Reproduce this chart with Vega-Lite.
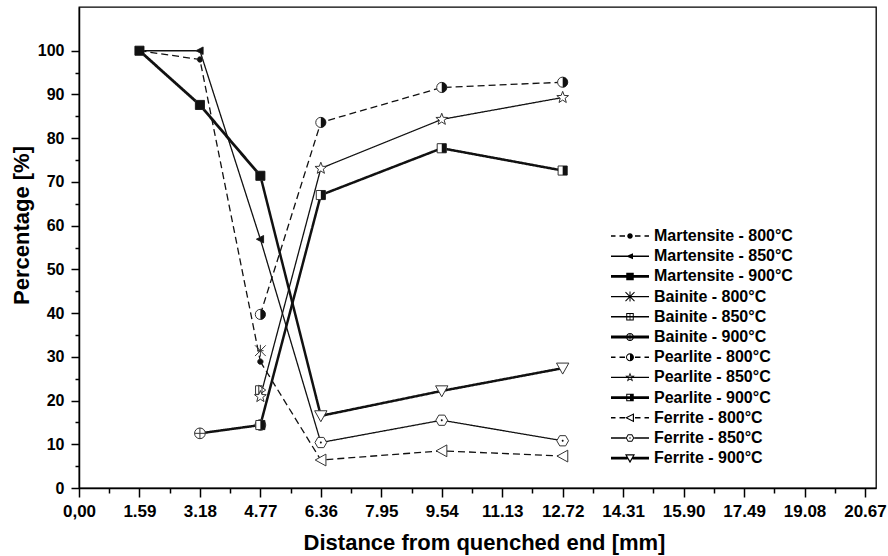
{
  "$schema": "https://vega.github.io/schema/vega-lite/v6.json",
  "width": 797,
  "height": 481,
  "autosize": "none",
  "padding": {"left": 79, "top": 7, "right": 12, "bottom": 68},
  "background": "white",
  "config": {
    "font": "Liberation Sans",
    "view": {"stroke": "black", "strokeWidth": 1.3},
    "axis": {"grid": false, "domainColor": "black", "domainWidth": 1.5, "tickColor": "black", "tickWidth": 1.5,
             "labelColor": "black", "labelFontWeight": "bold", "titleColor": "black", "titleFontWeight": "bold",
             "labelFont": "Liberation Sans", "titleFont": "Liberation Sans"}
  },
  "data": {"values": [
    {"series": "Martensite - 800°C", "x": 1.59, "y": 100},
    {"series": "Martensite - 800°C", "x": 3.18, "y": 98.0},
    {"series": "Martensite - 800°C", "x": 4.77, "y": 28.9},
    {"series": "Martensite - 850°C", "x": 1.59, "y": 100},
    {"series": "Martensite - 850°C", "x": 3.18, "y": 100},
    {"series": "Martensite - 850°C", "x": 4.77, "y": 56.9},
    {"series": "Martensite - 900°C", "x": 1.59, "y": 100},
    {"series": "Martensite - 900°C", "x": 3.18, "y": 87.6},
    {"series": "Martensite - 900°C", "x": 4.77, "y": 71.4},
    {"series": "Bainite - 800°C", "x": 4.77, "y": 31.4},
    {"series": "Bainite - 850°C", "x": 4.77, "y": 22.4},
    {"series": "Bainite - 900°C", "x": 3.18, "y": 12.5},
    {"series": "Bainite - 900°C", "x": 4.77, "y": 14.4},
    {"series": "Pearlite - 800°C", "x": 4.77, "y": 39.7},
    {"series": "Pearlite - 800°C", "x": 6.36, "y": 83.6},
    {"series": "Pearlite - 800°C", "x": 9.54, "y": 91.6},
    {"series": "Pearlite - 800°C", "x": 12.72, "y": 92.8},
    {"series": "Pearlite - 850°C", "x": 4.77, "y": 20.9},
    {"series": "Pearlite - 850°C", "x": 6.36, "y": 73.1},
    {"series": "Pearlite - 850°C", "x": 9.54, "y": 84.3},
    {"series": "Pearlite - 850°C", "x": 12.72, "y": 89.3},
    {"series": "Pearlite - 900°C", "x": 4.77, "y": 14.4},
    {"series": "Pearlite - 900°C", "x": 6.36, "y": 67.0},
    {"series": "Pearlite - 900°C", "x": 9.54, "y": 77.7},
    {"series": "Pearlite - 900°C", "x": 12.72, "y": 72.6},
    {"series": "Ferrite - 800°C", "x": 4.77, "y": 28.9},
    {"series": "Ferrite - 800°C", "x": 6.36, "y": 6.4},
    {"series": "Ferrite - 800°C", "x": 9.54, "y": 8.5},
    {"series": "Ferrite - 800°C", "x": 12.72, "y": 7.3},
    {"series": "Ferrite - 850°C", "x": 4.77, "y": 56.9},
    {"series": "Ferrite - 850°C", "x": 6.36, "y": 10.4},
    {"series": "Ferrite - 850°C", "x": 9.54, "y": 15.5},
    {"series": "Ferrite - 850°C", "x": 12.72, "y": 10.8},
    {"series": "Ferrite - 900°C", "x": 4.77, "y": 71.4},
    {"series": "Ferrite - 900°C", "x": 6.36, "y": 16.5},
    {"series": "Ferrite - 900°C", "x": 9.54, "y": 22.2},
    {"series": "Ferrite - 900°C", "x": 12.72, "y": 27.4}
  ]},
  "encoding": {
    "x": {"field": "x", "type": "quantitative", "title": "Distance from quenched end [mm]",
          "scale": {"domain": [0, 20.96], "nice": false, "zero": false},
          "axis": {"values": [0, 0.795, 1.59, 2.385, 3.18, 3.975, 4.77, 5.565, 6.36, 7.155, 7.95, 8.745, 9.54, 10.335, 11.13, 11.925, 12.72, 13.515, 14.31, 15.105, 15.9, 16.695, 17.49, 18.285, 19.08, 19.875, 20.67],
                   "labelExpr": "abs(datum.value/1.59 - round(datum.value/1.59)) > 0.25 ? '' : (datum.value == 0 ? '0,00' : format(datum.value, '.2f'))",
                   "tickSize": {"condition": {"test": "abs(datum.value/1.59 - round(datum.value/1.59)) > 0.25", "value": 5}, "value": 9},
                   "labelFontSize": 17, "labelPadding": 6, "labelFlush": false, "labelOverlap": false,
                   "titleFontSize": 22, "titleX": 405, "titleY": 61, "titleBaseline": "alphabetic"}},
    "y": {"field": "y", "type": "quantitative", "title": "Percentage [%]",
          "scale": {"domain": [0, 110], "nice": false},
          "axis": {"values": [0, 5, 10, 15, 20, 25, 30, 35, 40, 45, 50, 55, 60, 65, 70, 75, 80, 85, 90, 95, 100],
                   "labelExpr": "datum.value % 10 != 0 ? '' : datum.value",
                   "tickSize": {"condition": {"test": "datum.value % 10 != 0", "value": 4}, "value": 8},
                   "labelFontSize": 16, "labelPadding": 7, "labelOverlap": false,
                   "titleFontSize": 22, "titleX": -51, "titleY": 218, "titleBaseline": "alphabetic"}}
  },
  "layer": [
    {
      "mark": {"type": "line", "color": "#111111"},
      "encoding": {
        "detail": {"field": "series", "type": "nominal"},
        "strokeDash": {"field": "series", "type": "nominal", "legend": null,
          "scale": {"domain": ["Martensite - 800°C", "Martensite - 850°C", "Martensite - 900°C", "Bainite - 800°C", "Bainite - 850°C", "Bainite - 900°C", "Pearlite - 800°C", "Pearlite - 850°C", "Pearlite - 900°C", "Ferrite - 800°C", "Ferrite - 850°C", "Ferrite - 900°C"],
                    "range": [[7, 4], [1, 0], [1, 0], [7, 4], [1, 0], [1, 0], [7, 4], [1, 0], [1, 0], [7, 4], [1, 0], [1, 0]]}},
        "strokeWidth": {"field": "series", "type": "nominal", "legend": null,
          "scale": {"type": "ordinal", "domain": ["Martensite - 800°C", "Martensite - 850°C", "Martensite - 900°C", "Bainite - 800°C", "Bainite - 850°C", "Bainite - 900°C", "Pearlite - 800°C", "Pearlite - 850°C", "Pearlite - 900°C", "Ferrite - 800°C", "Ferrite - 850°C", "Ferrite - 900°C"],
                    "range": [1.3, 1.3, 2.8, 1.3, 1.3, 2.5, 1.3, 1.3, 2.5, 1.3, 1.3, 2.5]}}
      }
    },
    {
      "transform": [{"filter": "!(indexof(datum.series, 'Ferrite') == 0 && datum.x < 5)"}],
      "mark": {"type": "point", "filled": false, "fill": "white", "stroke": "#333333", "strokeWidth": 1, "size": 115, "opacity": 1},
      "encoding": {
        "shape": {"field": "series", "type": "nominal", "legend": null,
          "scale": {"domain": ["Martensite - 800°C", "Martensite - 850°C", "Martensite - 900°C", "Bainite - 800°C", "Bainite - 850°C", "Bainite - 900°C", "Pearlite - 800°C", "Pearlite - 850°C", "Pearlite - 900°C", "Ferrite - 800°C", "Ferrite - 850°C", "Ferrite - 900°C"],
                    "range": [
                      "M0.5,0A0.5,0.5 0 0 1 -0.5,0A0.5,0.5 0 0 1 0.5,0Z",
                      "M-0.75,0L0.6,-0.7L0.6,0.7Z",
                      "M-0.85,-0.85H0.85V0.85H-0.85Z",
                      "M-1,-1L1,1M-1,1L1,-1M0,-1.1V1.1M-0.6,0H0.6",
                      "M-0.9,-0.8H0.3V0.8H-0.9Z M-0.3,-0.9L1,0L-0.3,0.9Z",
                      "M1,0A1,1 0 0 1 -1,0A1,1 0 0 1 1,0Z M-1,0H1 M0,-1V1",
                      "M0.95,0A0.95,0.95 0 0 1 -0.95,0A0.95,0.95 0 0 1 0.95,0Z",
                      "M0,-1.15L0.282,-0.388L1.094,-0.355L0.456,0.148L0.676,0.93L0,0.48L-0.676,0.93L-0.456,0.148L-1.094,-0.355L-0.282,-0.388Z",
                      "M-0.85,-0.85H0.85V0.85H-0.85Z",
                      "M-1.05,0L0.95,-1.1L0.95,1.1Z",
                      "M1.1,0L0.55,0.953L-0.55,0.953L-1.1,0L-0.55,-0.953L0.55,-0.953Z",
                      "M-1.15,-0.95H1.15L0,1.1Z"
                    ]}}
      }
    },
    {
      "transform": [
        {"filter": {"field": "series", "oneOf": ["Martensite - 800°C", "Martensite - 850°C", "Martensite - 900°C", "Pearlite - 800°C", "Pearlite - 900°C", "Ferrite - 850°C"]}},
        {"filter": "!(indexof(datum.series, 'Ferrite') == 0 && datum.x < 5)"}
      ],
      "mark": {"type": "point", "filled": true, "color": "#111111", "strokeWidth": 0, "size": 115, "opacity": 1},
      "encoding": {
        "shape": {"field": "series", "type": "nominal", "legend": null,
          "scale": {"domain": ["Martensite - 800°C", "Martensite - 850°C", "Martensite - 900°C", "Pearlite - 800°C", "Pearlite - 900°C", "Ferrite - 850°C"],
                    "range": [
                      "M0.5,0A0.5,0.5 0 0 1 -0.5,0A0.5,0.5 0 0 1 0.5,0Z",
                      "M-0.75,0L0.6,-0.7L0.6,0.7Z",
                      "M-0.85,-0.85H0.85V0.85H-0.85Z",
                      "M0,-0.95A0.95,0.95 0 0 1 0,0.95Z",
                      "M0,-0.85H0.85V0.85H0Z",
                      "M0.18,0A0.18,0.18 0 0 1 -0.18,0A0.18,0.18 0 0 1 0.18,0Z"
                    ]}}
      }
    },
    {
      "transform": [{"filter": "false"}],
      "mark": {"type": "point", "filled": true, "color": "black", "opacity": 1},
      "encoding": {
        "shape": {"field": "series", "type": "nominal", "title": null,
          "scale": {"domain": ["Martensite - 800°C", "Martensite - 850°C", "Martensite - 900°C", "Bainite - 800°C", "Bainite - 850°C", "Bainite - 900°C", "Pearlite - 800°C", "Pearlite - 850°C", "Pearlite - 900°C", "Ferrite - 800°C", "Ferrite - 850°C", "Ferrite - 900°C"],
                    "range": [
                      "M-3.8,-0.14H-2.9V0.14H-3.8Z M-2.1,-0.14H-1V0.14H-2.1Z M1,-0.14H2.1V0.14H1Z M2.9,-0.14H3.8V0.14H2.9Z M0.55,0A0.55,0.55 0 0 1 -0.55,0A0.55,0.55 0 0 1 0.55,0Z",
                      "M-3.8,-0.14H3.8V0.14H-3.8Z M-0.8,0L0.6,-0.6L0.6,0.6Z",
                      "M-3.8,-0.28H3.8V0.28H-3.8Z M-0.75,-0.75H0.75V0.75H-0.75Z",
                      "M-3.8,-0.14H3.8V0.14H-3.8Z M-0.971,-0.829L-0.829,-0.971L0.971,0.829L0.829,0.971Z M-0.829,0.971L-0.971,0.829L0.829,-0.971L0.971,-0.829Z M-0.1,-1H0.1V1H-0.1Z",
                      "M-3.8,-0.14H3.8V0.14H-3.8Z M-0.75,-0.75H0.75V0.75H-0.75Z M-0.55,-0.55V0.55H0.55V-0.55Z M-0.08,-0.75H0.08V0.75H-0.08Z",
                      "M-3.8,-0.28H3.8V0.28H-3.8Z M0.8,0A0.8,0.8 0 0 1 -0.8,0A0.8,0.8 0 0 1 0.8,0Z M0.6,0A0.6,0.6 0 0 0 -0.6,0A0.6,0.6 0 0 0 0.6,0Z M-0.08,-0.8H0.08V0.8H-0.08Z",
                      "M-3.8,-0.14H-2.9V0.14H-3.8Z M-2.1,-0.14H-1V0.14H-2.1Z M1,-0.14H2.1V0.14H1Z M2.9,-0.14H3.8V0.14H2.9Z M0.8,0A0.8,0.8 0 0 1 -0.8,0A0.8,0.8 0 0 1 0.8,0Z M0.6,0A0.6,0.6 0 0 0 -0.6,0A0.6,0.6 0 0 0 0.6,0Z M0,-0.62A0.62,0.62 0 0 1 0,0.62Z",
                      "M-3.8,-0.14H3.8V0.14H-3.8Z M0,-1L0.247,-0.34L0.951,-0.309L0.399,0.13L0.588,0.809L0,0.42L-0.588,0.809L-0.399,0.13L-0.951,-0.309L-0.247,-0.34Z M0,-0.55L-0.136,-0.187L-0.523,-0.17L-0.219,0.072L-0.323,0.445L0,0.231L0.323,0.445L0.219,0.072L0.523,-0.17L0.136,-0.187Z",
                      "M-3.8,-0.28H3.8V0.28H-3.8Z M-0.75,-0.75H0.75V0.75H-0.75Z M-0.55,-0.55V0.55H0.55V-0.55Z M0,-0.55H0.55V0.55H0Z",
                      "M-3.8,-0.14H-2.9V0.14H-3.8Z M-2.1,-0.14H-1V0.14H-2.1Z M1,-0.14H2.1V0.14H1Z M2.9,-0.14H3.8V0.14H2.9Z M-1,0L0.8,-0.9L0.8,0.9Z M-0.52,0L0.56,0.54L0.56,-0.54Z",
                      "M-3.8,-0.14H-0.85V0.14H-3.8Z M0.85,-0.14H3.8V0.14H0.85Z M0.85,0L0.425,0.736L-0.425,0.736L-0.85,0L-0.425,-0.736L0.425,-0.736Z M0.63,0L0.315,-0.546L-0.315,-0.546L-0.63,0L-0.315,0.546L0.315,0.546Z M0.15,0A0.15,0.15 0 0 1 -0.15,0A0.15,0.15 0 0 1 0.15,0Z",
                      "M-3.8,-0.28H-0.5V0.28H-3.8Z M0.5,-0.28H3.8V0.28H0.5Z M-1,-0.8H1L0,1Z M-0.6,-0.56L0,0.52L0.6,-0.56Z"
                    ]},
          "legend": {"orient": "none", "legendX": 543, "legendY": 221, "padding": 0, "offset": 0,
                     "symbolSize": 100, "symbolStrokeWidth": 0, "symbolFillColor": "black", "symbolStrokeColor": "black", "symbolOpacity": 1,
                     "labelFont": "Liberation Sans", "labelFontSize": 16, "labelFontWeight": "bold", "labelColor": "black",
                     "labelOffset": 16, "rowPadding": 4.2, "labelLimit": 400}}
      }
    }
  ],
  "resolve": {"scale": {"shape": "independent"}}
}
